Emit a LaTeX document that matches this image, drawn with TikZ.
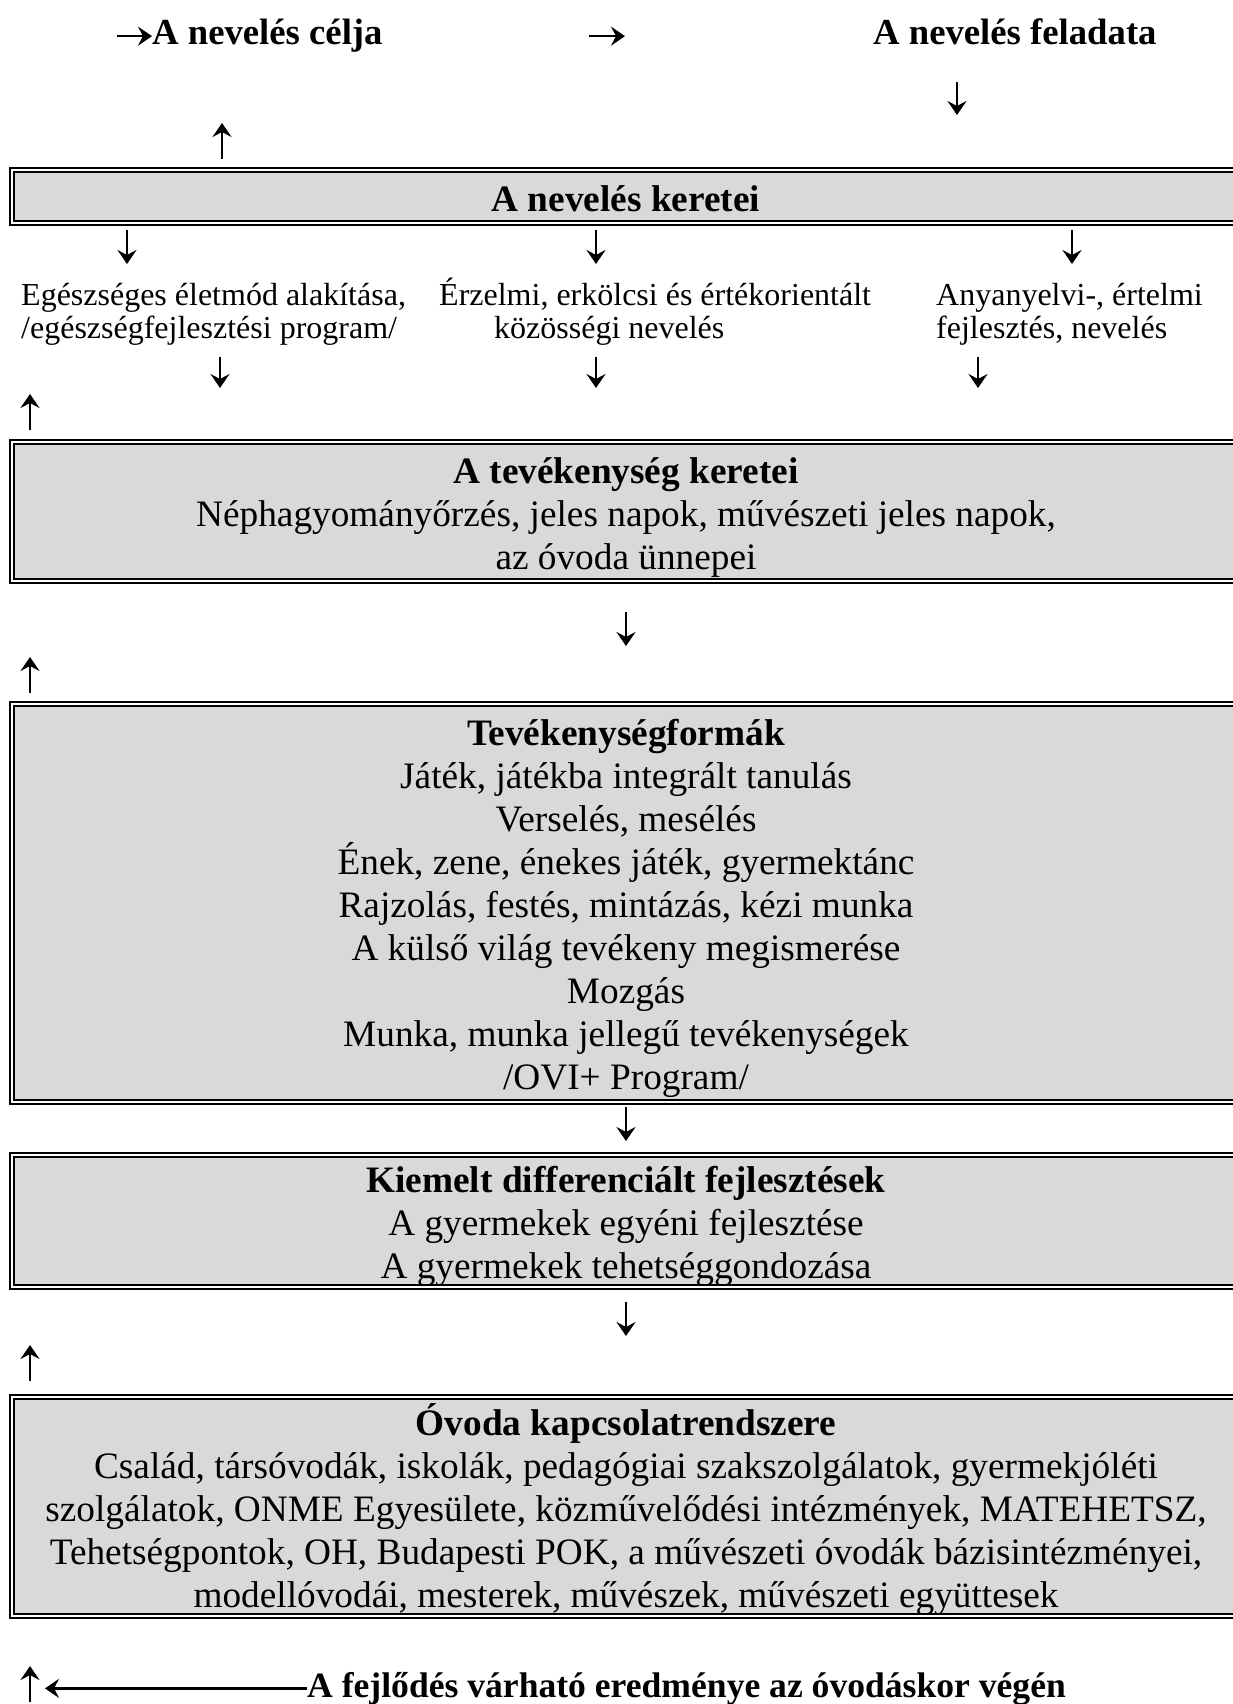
\documentclass[tikz,border=0pt]{standalone}
\usepackage{fontspec}
\setmainfont{Liberation Serif}
\usetikzlibrary{arrows.meta}
\def\nagybetu{\fontsize{37.3}{43}\selectfont}
\def\cimbetu{\fontsize{36.7}{43}\selectfont}
\def\kisbetu{\fontsize{32}{33}\selectfont}
\def\sortam{\rule[-8pt]{0pt}{46pt}}
\definecolor{keretszurke}{HTML}{D9D9D9}

\begin{document}
\begin{tikzpicture}[x=1pt,y=-1pt,
    keret/.style={draw,line width=1.9pt,double=white,double distance=2pt,
                  fill=keretszurke,minimum width=1228pt,anchor=north,
                  align=center,font=\nagybetu,inner sep=0pt},
    nyil/.style={line width=2.4pt,-{Stealth[length=14pt,width=19pt,inset=5pt]}},
    cim/.style={font=\cimbetu\bfseries,anchor=base west,inner sep=0pt},
    sor/.style={font=\kisbetu,align=left,anchor=base west,inner sep=0pt}]
\useasboundingbox (0,0) rectangle (1232,1704);

% felso sor
\node[cim] (cel) at (152,45) {A nevelés célja};
\node[cim] (feladat) at (873,45) {A nevelés feladata};
\coordinate (celnyil) at (117,0);
\coordinate (kozep1) at (589,0);
\coordinate (kozep2) at (625,0);
\draw[nyil] (cel.west -| celnyil) -- (cel.west);
\draw[nyil] (cel.west -| kozep1) -- (cel.west -| kozep2);

% keretek
\node[keret,minimum height=53pt] (nevkeret) at (626,169) {\sortam\bfseries A nevelés keretei};

\node[sor] (egeszseg) at (21,338) {Egészséges életmód alakítása,\\/egészségfejlesztési program/};
\node[sor] (erzelmi) at (439,338) {Érzelmi, erkölcsi és értékorientált\\\hspace*{55pt}közösségi nevelés};
\node[sor] (anyanyelv) at (936,338) {Anyanyelvi-, értelmi\\fejlesztés, nevelés};

\node[keret,minimum height=139pt] (tevkeret) at (626,441)
  {\sortam\textbf{A tevékenység keretei}\\
   Néphagyományőrzés, jeles napok, művészeti jeles napok,\\
   az óvoda ünnepei};

\node[keret,minimum height=398pt] (formak) at (626,703)
  {\sortam\textbf{Tevékenységformák}\\
   Játék, játékba integrált tanulás\\
   Verselés, mesélés\\
   Ének, zene, énekes játék, gyermektánc\\
   Rajzolás, festés, mintázás, kézi munka\\
   A külső világ tevékeny megismerése\\
   Mozgás\\
   Munka, munka jellegű tevékenységek\\
   /OVI+ Program/};

\node[keret,minimum height=129pt] (kiemelt) at (626,1154)
  {\sortam\textbf{Kiemelt differenciált fejlesztések}\\
   A gyermekek egyéni fejlesztése\\
   A gyermekek tehetséggondozása};

\node[keret,minimum height=219pt] (kapcsolat) at (626,1396)
  {\sortam\textbf{Óvoda kapcsolatrendszere}\\
   Család, társóvodák, iskolák, pedagógiai szakszolgálatok, gyermekjóléti\\
   szolgálatok, ONME Egyesülete, közművelődési intézmények, MATEHETSZ,\\
   Tehetségpontok, OH, Budapesti POK, a művészeti óvodák bázisintézményei,\\
   modellóvodái, mesterek, művészek, művészeti együttesek};

% also sor
\node[cim,font=\fontsize{35.6}{43}\selectfont\bfseries] (eredmeny) at (307,1697)
  {A fejlődés várható eredménye az óvodáskor végén};
\coordinate (balveg) at (45,0);
\draw[nyil] (eredmeny.west) -- (eredmeny.west -| balveg);

% lefele nyilak
\foreach \n/\x/\y/\h in {a/957/82/33, b/127/230/34, c/596/230/34, d/1072/230/34,
                         e/220/357/31, f/596/357/31, g/978/357/31,
                         h/626/612/34, i/626/1107/34, j/626/1302/34}{
  \coordinate (le\n) at (\x,\y);
  \coordinate (le\n v) at (\x,\y+\h);
  \draw[nyil] (le\n) -- (le\n v);
}
% felfele nyilak
\foreach \n/\x/\y in {a/222/159, b/30/430, c/30/693, d/30/1381, e/30/1702}{
  \coordinate (fel\n) at (\x,\y);
  \coordinate (fel\n v) at (\x,\y-36);
  \draw[nyil] (fel\n) -- (fel\n v);
}
\end{tikzpicture}
\end{document}
